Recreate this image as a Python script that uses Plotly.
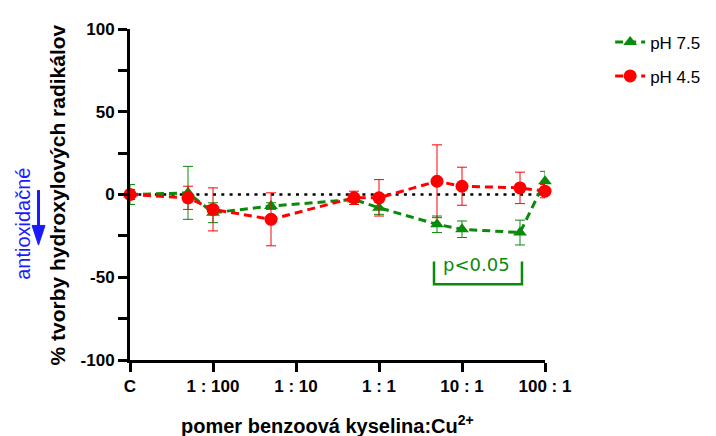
import plotly.graph_objects as go

# ---- data ----
ratios = [0.001, 0.005, 0.01, 0.05, 0.5, 1, 5, 10, 50, 100]   # 0.001 = control "C"
ph75 = [0, 1, -11, -7, -3, -8, -18, -21, -23, 8]
ph75_err = [6, 16, 6, 2, 3, 4, 5, 5, 7.5, 6]
ph45 = [0, -2, -9, -15, -2, -2, 8, 5, 4, 2]
ph45_err = [3, 7, 13, 16, 4, 11, 22, 11.5, 9.5, 4]
tick_vals = [0.001, 0.01, 0.1, 1, 10, 100]
tick_text = ["C", "1 : 100", "1 : 10", "1 : 1", "10 : 1", "100 : 1"]
y_ticks = [-100, -50, 0, 50, 100]
y_tick_text = ["-100", "-50", "0", "50", "100"]
y_minor = [-75, -25, 25, 75]

GREEN = "#0a8a0a"
RED = "#ff0000"
BLUE = "#1a1aff"
FONT = "Liberation Sans, Arial, sans-serif"
WIDE = "DejaVu Sans, sans-serif"

fig = go.Figure()
fig.add_trace(go.Scatter(
    x=ratios, y=ph75, name="pH 7.5", mode="lines+markers",
    line=dict(color=GREEN, width=3, dash="8px,5px"),
    marker=dict(symbol="triangle-up", size=12, color=GREEN),
    error_y=dict(type="data", array=ph75_err, color=GREEN, thickness=1, width=5),
    cliponaxis=False, legend="legend",
))
fig.add_trace(go.Scatter(
    x=ratios, y=ph45, name="pH 4.5", mode="lines+markers",
    line=dict(color=RED, width=3, dash="8px,5px"),
    marker=dict(symbol="circle", size=13, color=RED),
    error_y=dict(type="data", array=ph45_err, color=RED, thickness=1, width=5),
    cliponaxis=False, legend="legend2",
))

# dotted zero line
fig.add_shape(type="line", xref="x domain", yref="y", x0=0, x1=1, y0=0, y1=0,
              line=dict(color="black", width=2.5, dash="3px,5.3px"), layer="below")

# significance bracket (path coords in data units)
fig.add_shape(type="path", xref="x", yref="y",
              path="M 4.6 -40.5 L 4.6 -54.3 L 52.8 -54.3 L 52.8 -40.5",
              line=dict(color=GREEN, width=2.5))
fig.add_annotation(x=1.175, y=-42.5, xref="x", yref="y", text="p<0.05",
                   xanchor="center", yanchor="middle", showarrow=False,
                   font=dict(family=WIDE, size=18, color=GREEN))

# antioxidant label + arrow
fig.add_annotation(x=-0.2565, y=0.41, xref="paper", yref="paper", text="antioxidačné",
                   textangle=-90, xanchor="center", yanchor="middle", showarrow=False,
                   font=dict(family=FONT, size=20, color=BLUE))
fig.add_shape(type="line", xref="paper", yref="paper",
              x0=-0.2205, x1=-0.2205, y0=0.5134, y1=0.395,
              line=dict(color=BLUE, width=3))
fig.add_shape(type="path", xref="paper", yref="paper",
              path="M -0.2361 0.4065 L -0.2048 0.4065 L -0.2205 0.3472 Z",
              fillcolor=BLUE, line=dict(color=BLUE, width=1))

# axis titles
fig.add_annotation(x=-0.1735, y=0.5, xref="paper", yref="paper",
                   text="<b>% tvorby hydroxylových radikálov</b>", textangle=-90,
                   xanchor="center", yanchor="middle", showarrow=False,
                   font=dict(family=FONT, size=21, color="black"))
fig.add_annotation(x=0.476, y=-0.196, xref="paper", yref="paper",
                   text="<b>pomer benzoová kyselina:Cu<sup>2+</sup></b>",
                   xanchor="center", yanchor="middle", showarrow=False,
                   font=dict(family=FONT, size=20, color="black"))

fig.update_layout(
    width=716, height=436,
    margin=dict(l=122, r=179, t=15, b=84),
    paper_bgcolor="white", plot_bgcolor="white",
    font=dict(family=FONT, size=16, color="black"),
    legend=dict(x=1.157, y=0.959, xanchor="left", yanchor="middle",
                font=dict(size=17), bgcolor="rgba(0,0,0,0)"),
    legend2=dict(x=1.157, y=0.857, xanchor="left", yanchor="middle",
                 font=dict(size=17), bgcolor="rgba(0,0,0,0)"),
    showlegend=True,
)
fig.update_xaxes(type="log", range=[-3, 2], tickvals=tick_vals, ticktext=tick_text,
                 showgrid=False, zeroline=False, showline=True, linecolor="black",
                 linewidth=3, ticks="outside", ticklen=9, tickwidth=3, tickcolor="black",
                 tickfont=dict(family=FONT, size=17, weight="bold"))
fig.update_yaxes(range=[-100, 100], tickvals=y_ticks, ticktext=y_tick_text,
                 showgrid=False, zeroline=False, showline=True, linecolor="black",
                 linewidth=3, ticks="outside", ticklen=9, tickwidth=3, tickcolor="black",
                 tickfont=dict(family=FONT, size=17, weight="bold"),
                 minor=dict(tickvals=y_minor, ticks="outside", ticklen=9,
                            tickwidth=3, tickcolor="black"))

fig.write_html("out.html")
